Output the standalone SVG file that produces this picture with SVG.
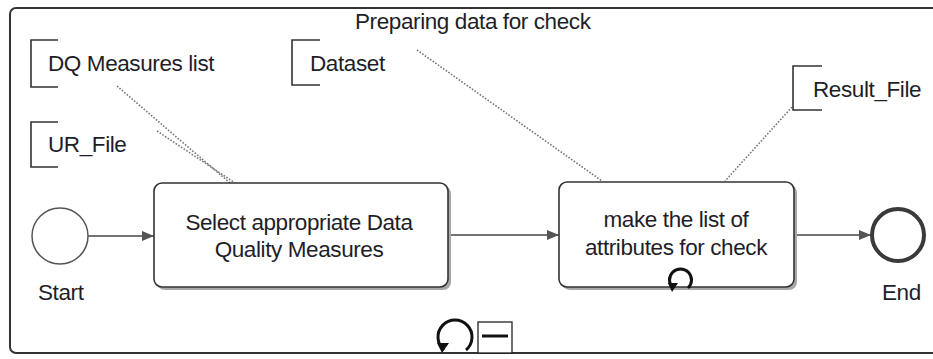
<svg xmlns="http://www.w3.org/2000/svg" width="933" height="359" viewBox="0 0 933 359">
  <style>
    .lbl { font-family: "Liberation Sans", Arial, sans-serif; font-size: 22.5px; letter-spacing: -0.4px; fill: #1e1e28; }
    .mid { text-anchor: middle; }
    .task { fill: #fff; stroke: #333; stroke-width: 1.6; }
    .shadow { fill: #a8a8a8; }
    .flow { stroke: #444; stroke-width: 1.3; fill: none; }
    .assoc { stroke: #777; stroke-width: 1.6; stroke-dasharray: 1.6 1.6; fill: none; }
    .bracket { stroke: #333; stroke-width: 1.6; fill: none; }
    .marker { stroke: #111; stroke-width: 3; fill: none; }
  </style>
  <defs>
    <marker id="arrow" markerWidth="12" markerHeight="10" refX="12" refY="5" orient="auto" markerUnits="userSpaceOnUse">
      <path d="M0,0 L12,5 L0,10 Z" fill="#555"/>
    </marker>
  </defs>

  <rect width="933" height="359" fill="#fff"/>

  <!-- expanded sub-process frame -->
  <g id="subprocess">
    <rect x="10" y="8" width="940" height="345" rx="6" fill="none" stroke="#333" stroke-width="2"/>
    <text class="lbl" x="355" y="29">Preparing data for check</text>
    <!-- loop + collapse markers -->
    <path class="marker" d="M444,350 A17,17 0 1 1 466,350"/>
    <path d="M437,343 L449,343 L442,353 Z" fill="#111"/>
    <rect x="478" y="322" width="34" height="31" fill="#fff" stroke="#222" stroke-width="1.3"/>
    <line x1="482" y1="336" x2="508" y2="336" stroke="#111" stroke-width="3"/>
  </g>

  <!-- connectors -->
  <g id="connectors">
    <line class="flow" x1="88" y1="236" x2="154" y2="236" marker-end="url(#arrow)"/>
    <line class="flow" x1="448" y1="235" x2="559" y2="235" marker-end="url(#arrow)"/>
    <line class="flow" x1="794" y1="235" x2="871" y2="235" marker-end="url(#arrow)"/>
    <line class="assoc" x1="117" y1="86" x2="230" y2="183"/>
    <line class="assoc" x1="157" y1="131" x2="235" y2="183"/>
    <line class="assoc" x1="417" y1="50" x2="602" y2="181"/>
    <line class="assoc" x1="792" y1="107" x2="725" y2="181"/>
  </g>

  <!-- data objects -->
  <g id="dq-measures">
    <path class="bracket" d="M58,40 H31 V87 H58"/>
    <text class="lbl" x="48" y="71">DQ Measures list</text>
  </g>
  <g id="ur-file">
    <path class="bracket" d="M58,122 H31 V167 H58"/>
    <text class="lbl" x="48" y="152">UR_File</text>
  </g>
  <g id="dataset">
    <path class="bracket" d="M320,40 H292 V85 H320"/>
    <text class="lbl" x="310" y="71">Dataset</text>
  </g>
  <g id="result-file">
    <path class="bracket" d="M822,66 H793 V110 H822"/>
    <text class="lbl" x="813" y="97">Result_File</text>
  </g>

  <!-- events -->
  <g id="start">
    <circle cx="60" cy="236" r="28" fill="#fff" stroke="#555" stroke-width="1.5"/>
    <text class="lbl" x="38" y="300">Start</text>
  </g>
  <g id="end">
    <circle cx="898" cy="235" r="26" fill="#fff" stroke="#3a3a3a" stroke-width="4"/>
    <text class="lbl" x="882" y="300">End</text>
  </g>

  <!-- tasks -->
  <g id="task-select">
    <rect class="shadow" x="157" y="186" width="294" height="104" rx="8"/>
    <rect class="task" x="154" y="183" width="294" height="104" rx="8"/>
    <text class="lbl mid" x="299" y="230">Select appropriate Data</text>
    <text class="lbl mid" x="299" y="257">Quality Measures</text>
  </g>
  <g id="task-attributes">
    <rect class="shadow" x="562" y="185" width="235" height="105" rx="8"/>
    <rect class="task" x="559" y="182" width="235" height="105" rx="8"/>
    <text class="lbl mid" x="676" y="227">make the list of</text>
    <text class="lbl mid" x="676" y="255">attributes for check</text>
    <path class="marker" d="M673,288 A11,11 0 1 1 688,288"/>
    <path d="M668,283 L678,283 L672,292 Z" fill="#111"/>
  </g>
</svg>
